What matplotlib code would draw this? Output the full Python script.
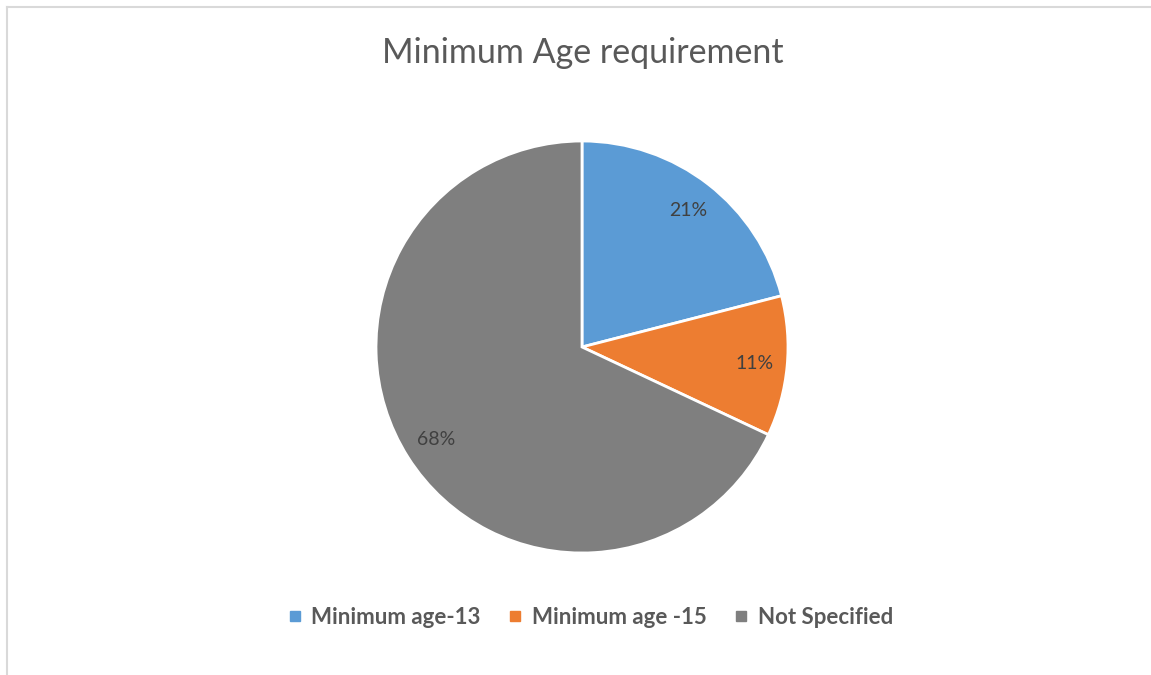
import matplotlib.pyplot as plt
from matplotlib.lines import Line2D

categories = ["Minimum age-13", "Minimum age -15", "Not Specified"]
shares = [21, 11, 68]
colors = ["#5B9BD5", "#ED7D31", "#7F7F7F"]

plt.rcParams['font.family'] = ['Lato', 'DejaVu Sans']

W, H = 1151, 675
fig = plt.figure(figsize=(W / 100, H / 100), dpi=100)

# light chart border (top and left visible)
fig.add_artist(Line2D([7 / W, 1], [1 - 7 / H, 1 - 7 / H], color="#D9D9D9", lw=1.5))
fig.add_artist(Line2D([7 / W, 7 / W], [0, 1 - 7 / H], color="#D9D9D9", lw=1.5))

cx, cy, r = 582, 347, 206
ax = fig.add_axes([(cx - r) / W, 1 - (cy + r) / H, 2 * r / W, 2 * r / H])
wedges, texts, autotexts = ax.pie(
    shares, colors=colors, startangle=90, counterclock=False,
    autopct="%1.0f%%", pctdistance=0.84,
    wedgeprops=dict(edgecolor="white", linewidth=2),
    textprops=dict(color="#404040", fontsize=14))
ax.set_aspect("equal")
ax.set_xlim(-1.0, 1.0)
ax.set_ylim(-1.0, 1.0)

fig.text(583 / W, 1 - 53 / H, "Minimum Age requirement", ha="center", va="center",
         fontsize=24.5, color="#595959")

handles = [Line2D([], [], marker="s", linestyle="", markersize=7, color=c) for c in colors]
fig.legend(handles, categories, loc="center", bbox_to_anchor=(590 / W, 1 - 617 / H),
           ncol=3, frameon=False, handlelength=0.7, handletextpad=0.4, columnspacing=1.2,
           prop=dict(weight="bold", size=16), labelcolor="#595959")

fig.savefig("out.png", dpi=100)
